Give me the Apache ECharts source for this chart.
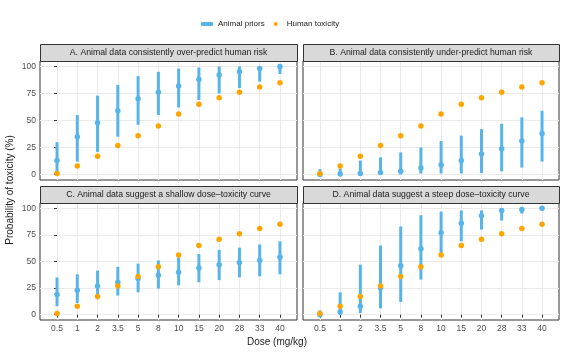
<!DOCTYPE html>
<html>
<head>
<meta charset="utf-8">
<script src="https://cdn.jsdelivr.net/npm/echarts@6/dist/echarts.min.js"></script>
<style>
  html, body { margin: 0; padding: 0; background: #fff; }
  #chart { width: 565px; height: 353px; }
</style>
</head>
<body>
<div id="chart"></div>
<script>
// x categories (doses) and y tick labels
const doses = ['0.5', '1', '2', '3.5', '5', '8', '10', '15', '20', '28', '33', '40'];
const yTicks = [0, 25, 50, 75, 100];

// human toxicity is the same in every panel
const human = [1, 8, 17, 27, 36, 45, 56, 65, 71, 76, 81, 85];

// animal priors: median, lower, upper
const aMid = [13, 35, 48, 59, 70, 76, 82, 88, 92, 95, 98, 100];
const aLo  = [0, 12, 21, 35, 46, 55, 62, 69, 75, 80, 86, 93];
const aHi  = [30, 55, 73, 83, 91, 95, 98, 99, 100, 100, 100, 100];

const bMid = [0, 0.5, 1, 2, 3, 6, 9, 13, 19, 24, 31, 38];
const bLo  = [0, 0, 0, 0, 0, 1, 1, 1, 1.5, 3, 6.5, 12];
const bHi  = [5, 5.5, 13, 16, 20.5, 25, 31, 36, 42, 47, 53, 59];

const cMid = [19, 23, 27, 30.5, 34, 37, 40, 44, 47, 49, 51, 54];
const cLo  = [8, 11, 14.5, 18, 21, 24.5, 27.5, 30.5, 32.5, 35, 36, 38];
const cHi  = [35, 38, 41.5, 45, 48, 51, 54, 57, 61, 63, 66, 69];

const dMid = [0, 2.5, 8, 25, 46, 62, 77, 86, 93, 98, 99, 100];
const dLo  = [0, 0, 1.5, 6, 12, 33, 56, 69, 80, 88.5, 95, 98];
const dHi  = [4, 21, 47, 65, 83, 93.5, 97, 98, 98, 99, 100, 100];

const titles = [
  'A. Animal data consistently over-predict human risk',
  'B. Animal data consistently under-predict human risk',
  'C. Animal data suggest a shallow dose\u2013toxicity curve',
  'D. Animal data suggest a steep dose\u2013toxicity curve'
];
const panels = [[aMid, aLo, aHi], [bMid, bLo, bHi], [cMid, cLo, cHi], [dMid, dLo, dHi]];

const BLUE = '#56B4E9';
const ORANGE = '#FFA500';
const FONT = 'Liberation Sans';

const boxes = [
  { left: 40, top: 61, width: 257, height: 119 },
  { left: 303, top: 61, width: 256, height: 119 },
  { left: 40, top: 203, width: 257, height: 117 },
  { left: 303, top: 203, width: 256, height: 117 }
];
const stripH = 17;

const grids = [], xAxes = [], yAxes = [], series = [], graphics = [];
const idx = doses.map((d, i) => i);

boxes.forEach((b, p) => {
  grids.push(Object.assign({ show: true, borderColor: '#333', borderWidth: 1, backgroundColor: '#fff' }, b));
  const bottomRow = p >= 2, leftCol = p % 2 === 0;
  xAxes.push({
    type: 'value', gridIndex: p, min: -0.84, max: 11.84,
    axisLine: { show: false },
    axisTick: { show: bottomRow, length: 3, lineStyle: { color: '#333' }, customValues: idx },
    axisLabel: {
      show: bottomRow, customValues: idx, color: '#4d4d4d', fontSize: 8.5, fontFamily: FONT, margin: 4,
      formatter: v => doses[Math.round(v)]
    },
    splitLine: { show: true, lineStyle: { color: '#ebebeb', width: 1 } }
  });
  yAxes.push({
    type: 'value', gridIndex: p, min: -5, max: 105,
    axisLine: { show: false },
    axisTick: { show: leftCol, length: 3, lineStyle: { color: '#333' }, customValues: yTicks },
    axisLabel: { show: leftCol, customValues: yTicks, color: '#4d4d4d', fontSize: 8.5, fontFamily: FONT, margin: 4 },
    splitLine: { show: true, lineStyle: { color: '#ebebeb', width: 1 } }
  });

  const [mid, lo, hi] = panels[p];
  series.push({
    name: 'Animal priors', type: 'custom', xAxisIndex: p, yAxisIndex: p,
    itemStyle: { color: BLUE },
    data: idx.map(i => [i, lo[i], hi[i]]),
    encode: { x: 0, y: [1, 2] },
    renderItem: (params, api) => {
      const t = api.coord([api.value(0), api.value(2)]);
      const s = api.coord([api.value(0), api.value(1)]);
      return { type: 'line', shape: { x1: t[0], y1: t[1], x2: s[0], y2: s[1] },
               style: { stroke: BLUE, lineWidth: 3 } };
    },
    z: 2
  });
  series.push({
    name: 'Animal priors', type: 'scatter', xAxisIndex: p, yAxisIndex: p,
    symbolSize: 5.5, itemStyle: { color: BLUE, opacity: 1 },
    data: idx.map(i => [i, mid[i]]), z: 3
  });
  series.push({
    name: 'Human toxicity', type: 'scatter', xAxisIndex: p, yAxisIndex: p,
    symbolSize: 5.5, itemStyle: { color: ORANGE, opacity: 1 },
    data: idx.map(i => [i, human[i]]), z: 4
  });

  graphics.push({
    type: 'rect', left: b.left, top: b.top - stripH, z: 10,
    shape: { width: b.width, height: stripH },
    style: { fill: '#d9d9d9', stroke: '#333', lineWidth: 1 }
  });
  graphics.push({
    type: 'text', z: 11, x: b.left + b.width / 2, y: b.top - stripH / 2,
    style: { text: titles[p], fill: '#1a1a1a', font: '8.7px "Liberation Sans"', align: 'center', verticalAlign: 'middle' }
  });
});

graphics.push({
  type: 'text', x: 10, y: 190, rotation: Math.PI / 2,
  style: { text: 'Probability of toxicity (%)', fill: '#1a1a1a', font: '10px "Liberation Sans"', align: 'center', verticalAlign: 'middle' }
});
graphics.push({
  type: 'text', x: 277, y: 342,
  style: { text: 'Dose (mg/kg)', fill: '#1a1a1a', font: '10px "Liberation Sans"', align: 'center', verticalAlign: 'middle' }
});

const chart = echarts.init(document.getElementById('chart'), null, { renderer: 'canvas' });
chart.setOption({
  animation: false,
  backgroundColor: '#fff',
  legend: {
    top: 15, left: 196, itemGap: 9, itemWidth: 12, itemHeight: 4,
    textStyle: { fontSize: 8, color: '#1a1a1a', fontFamily: FONT },
    data: [
      { name: 'Animal priors', icon: 'roundRect', itemStyle: { color: BLUE } },
      { name: 'Human toxicity', icon: 'circle', itemStyle: { color: ORANGE } }
    ]
  },
  grid: grids,
  xAxis: xAxes,
  yAxis: yAxes,
  series: series,
  graphic: graphics
});
</script>
</body>
</html>
